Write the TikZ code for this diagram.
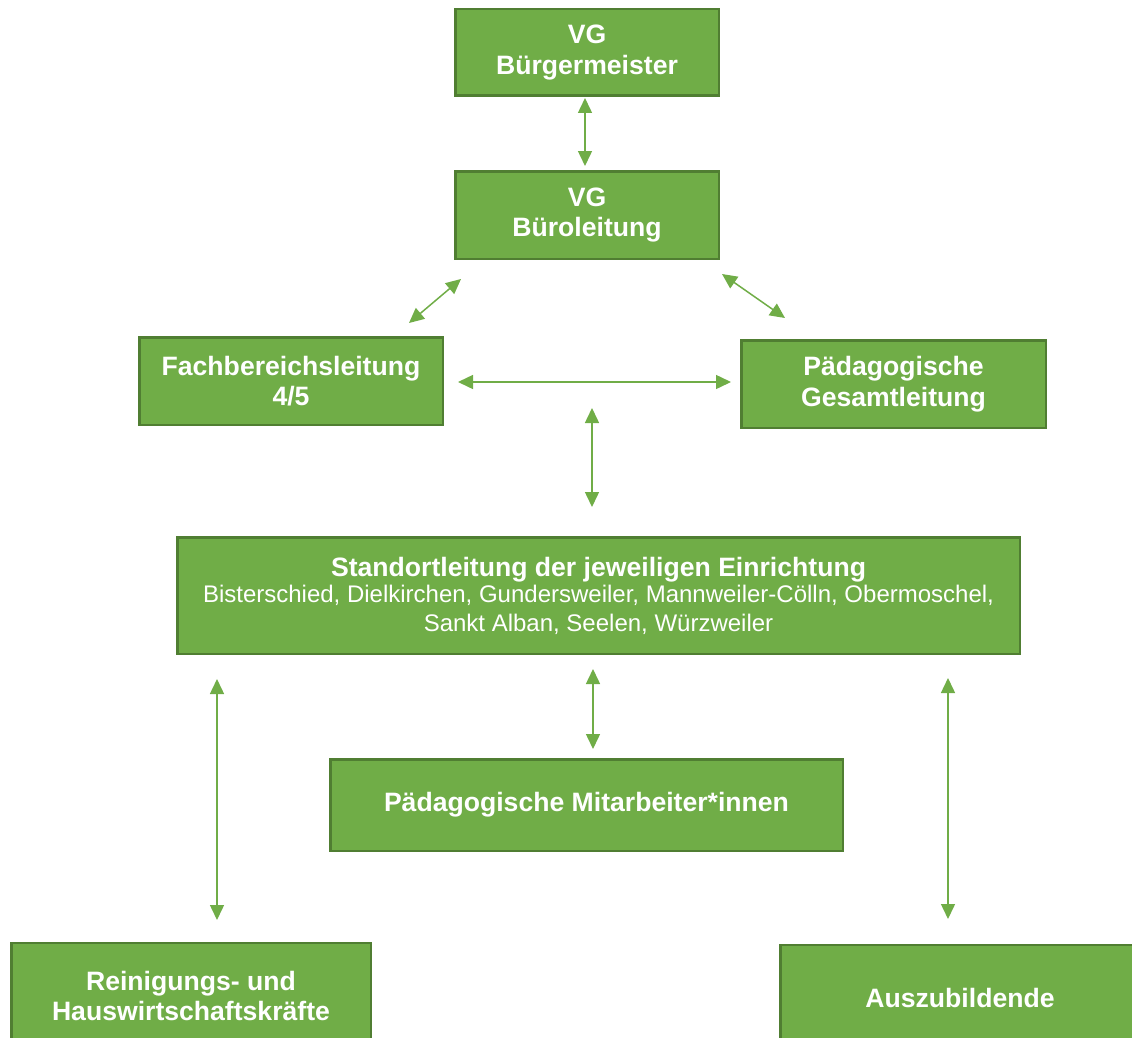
\documentclass[tikz,border=0pt]{standalone}
\usepackage{fontspec}
\setmainfont{Liberation Sans}
\usetikzlibrary{arrows.meta,calc}
\definecolor{boxfill}{HTML}{70AD47}
\definecolor{boxline}{HTML}{507E32}
\definecolor{arrowc}{HTML}{70AD47}
\newcommand{\titlefnt}{\bfseries\fontsize{26.6}{30.5}\selectfont}
\newcommand{\plainfnt}{\mdseries\fontsize{24}{29}\selectfont}
\begin{document}
\begin{tikzpicture}[x=1pt,y=-1pt,
  orgbox/.style={draw=boxline, line width=2.5pt, fill=boxfill, text=white,
    inner sep=0pt, align=center, font=\titlefnt},
  link/.style={draw=arrowc, line width=1.5pt,
    {Triangle[length=15pt,width=14pt]}-{Triangle[length=15pt,width=14pt]}}]
\useasboundingbox (0,0) rectangle (1132,1038);
% boxes
\node[orgbox, minimum width=263.5pt, minimum height=86.5pt] (bm) at (587,52.5) {VG\\Bürgermeister};
\node[orgbox, minimum width=263.5pt, minimum height=87.5pt] (bl) at (587,215) {VG\\Büroleitung};
\node[orgbox, minimum width=303.5pt, minimum height=87.5pt] (fb) at (291,381) {Fachbereichsleitung\\4/5};
\node[orgbox, minimum width=304.5pt, minimum height=87.5pt] (pg) at (893.5,384) {Pädagogische\\Gesamtleitung};
\node[orgbox, minimum width=842.5pt, minimum height=116.5pt, font=\plainfnt] (st) at (598.5,595.5)
  {{\titlefnt Standortleitung der jeweiligen Einrichtung}\\[-3pt]
   {\plainfnt Bisterschied, Dielkirchen, Gundersweiler, Mannweiler-Cölln, Obermoschel,}\\
   {\plainfnt Sankt Alban, Seelen, Würzweiler}};
\node[orgbox, minimum width=512.5pt, minimum height=91.5pt] (pm) at (586.5,805) {Pädagogische Mitarbeiter*innen};
\node[orgbox, minimum width=359.5pt, minimum height=106.5pt] (rh) at (191,996) {Reinigungs- und\\Hauswirtschaftskräfte};
\node[orgbox, minimum width=359.5pt, minimum height=106.5pt] (az) at (960,998) {Auszubildende};
% connector end points
\coordinate (a1t) at (585,98);   \coordinate (a1b) at (585,166);
\coordinate (a2t) at (461,279);  \coordinate (a2b) at (409,323);
\coordinate (a3t) at (722,274);  \coordinate (a3b) at (785,318);
\coordinate (a4l) at (458,382);  \coordinate (a4r) at (731,382);
\coordinate (a5t) at (592,408);  \coordinate (a5b) at (592,507);
\coordinate (a6t) at (593,669);  \coordinate (a6b) at (593,749);
\coordinate (a7t) at (217,679);  \coordinate (a7b) at (217,920);
\coordinate (a8t) at (948,678);  \coordinate (a8b) at (948,919);
% connectors
\draw[link] (a1t) -- (a1b);
\draw[link] (a2t) -- (a2b);
\draw[link] (a3t) -- (a3b);
\draw[link] (a4l) -- (a4r);
\draw[link] (a5t) -- (a5b);
\draw[link] (a6t) -- (a6b);
\draw[link] (a7t) -- (a7b);
\draw[link] (a8t) -- (a8b);
\end{tikzpicture}
\end{document}
